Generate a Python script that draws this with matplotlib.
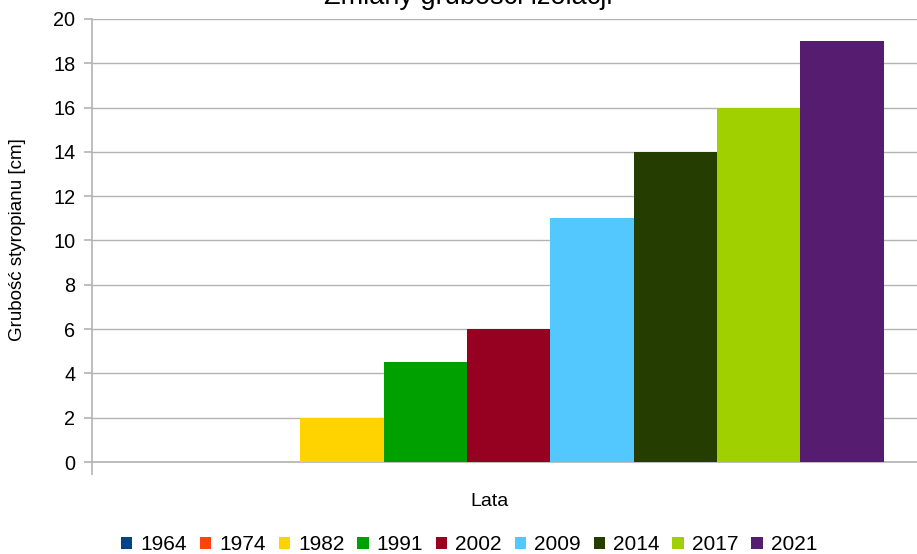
import matplotlib
matplotlib.use("Agg")
import matplotlib.pyplot as plt
from matplotlib.patches import Patch

plt.rcParams['font.family'] = ['Liberation Sans', 'DejaVu Sans']

years = ["1964", "1974", "1982", "1991", "2002", "2009", "2014", "2017", "2021"]
values = [0, 0, 2, 4.5, 6, 11, 14, 16, 19]
colors = ["#004586", "#ff420e", "#ffd300", "#00a000", "#960021", "#52c8ff",
          "#253d00", "#a0d000", "#561c70"]
title = "Zmiany grubości izolacji"
ylabel = "Grubość styropianu [cm]"
xlabel = "Lata"
yticks = [0, 2, 4, 6, 8, 10, 12, 14, 16, 18, 20]

W, H = 917, 554
fig = plt.figure(figsize=(W / 100, H / 100), dpi=100)
ax = fig.add_axes([92 / W, 1 - 462 / H, (917 - 92) / W, (462 - 19) / H])

for i, (y, v, c) in enumerate(zip(years, values, colors)):
    ax.bar(i, v, width=1.0, color=c, label=y, zorder=3)

ax.set_xlim(-1.0, 8.9)
ax.set_ylim(0, 20)
ax.set_yticks(yticks)
ax.set_yticklabels([str(t) for t in yticks], fontsize=14.3)
ax.yaxis.grid(True, color="#b3b3b3", linewidth=1, zorder=0)
ax.set_xticks([-1.0])
ax.set_xticklabels([""])
ax.tick_params(axis='x', length=9, color="#b3b3b3", width=1.2, direction='out')
ax.tick_params(axis='y', length=6, color="#b3b3b3", width=1.2, direction='out', pad=6)
for s in ["top", "right"]:
    ax.spines[s].set_visible(False)
for s in ["left", "bottom"]:
    ax.spines[s].set_color("#b3b3b3")
    ax.spines[s].set_linewidth(1.2)

fig.text(18 / W, 1 - 240 / H, ylabel, fontsize=13.5, rotation=90, ha='center', va='center')
fig.text(490 / W, 1 - 502 / H, xlabel, fontsize=14, ha='center', va='center')

fig.text(468 / W, 1 - 4 / H, title, fontsize=19.5, ha='center', va='baseline')

handles = [Patch(facecolor=c, edgecolor='none') for c in colors]
fig.legend(handles, years, loc='center', bbox_to_anchor=(469 / W, 1 - 545 / H),
           ncol=9, frameon=False, fontsize=15, handlelength=0.55, handleheight=0.55,
           handletextpad=0.38, columnspacing=0.62, borderaxespad=0)

fig.savefig("out.png", dpi=100)
